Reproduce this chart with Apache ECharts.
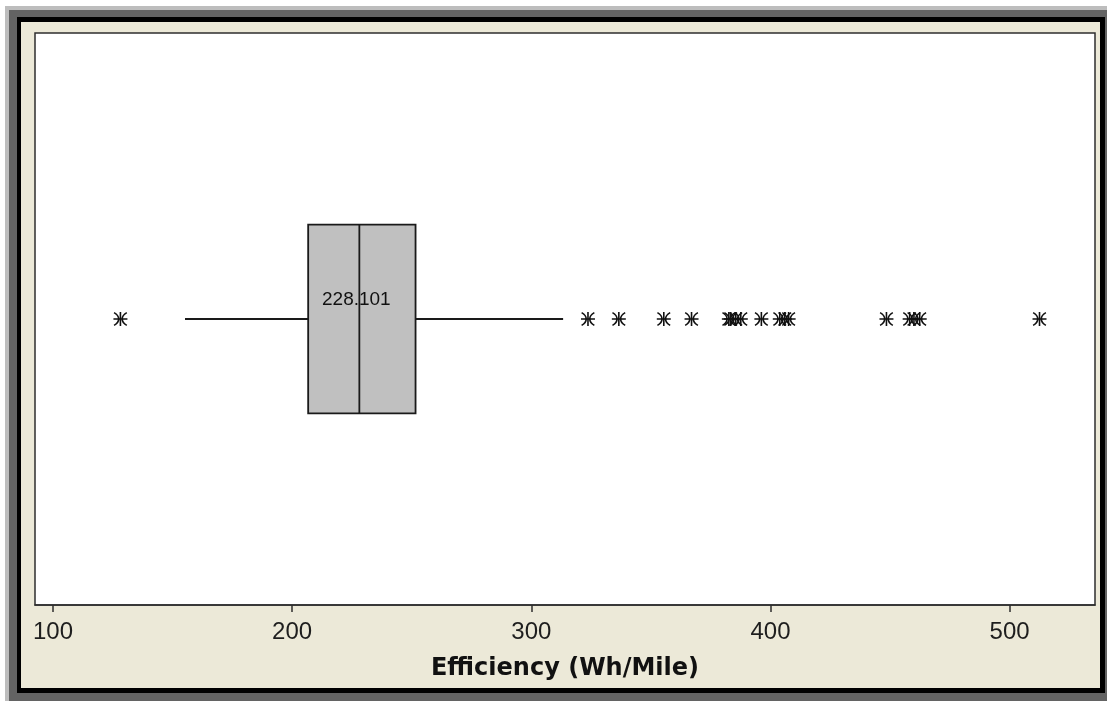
<!DOCTYPE html>
<html>
<head>
<meta charset="utf-8">
<script src="https://cdn.jsdelivr.net/npm/echarts@6/dist/echarts.min.js"></script>
<style>
  html, body { margin: 0; padding: 0; background: #ffffff; }
  .f { position: absolute; }
  #chart { position: absolute; left: 0; top: 0; width: 1107px; height: 701px; }
</style>
</head>
<body>
<div class="f" style="left:5px;top:6px;width:1102px;height:695px;background:#bdbdbd"></div>
<div class="f" style="left:9px;top:10px;width:1098px;height:691px;background:#636363"></div>
<div class="f" style="left:17px;top:17px;width:1088px;height:676px;background:#000000"></div>
<div class="f" style="left:21px;top:22px;width:1079px;height:666px;background:#ece9d8"></div>
<div id="chart"></div>
<script>
// ---- data ----
const categories = ['Efficiency'];
// [lower whisker, Q1, median, Q3, upper whisker]
const boxStats = [155.2, 206.7, 228.101, 251.6, 313.3];
const medianLabel = '228.101';
const outliers = [128.2, 323.7, 336.6, 355.4, 367.0, 382.6, 383.4, 385.5, 387.6,
                  396.2, 403.9, 406.0, 407.6, 448.5, 458.2, 460.0, 462.4, 512.5];
const xTicks = [100, 200, 300, 400, 500];
const axisName = 'Efficiency (Wh/Mile)';

const chart = echarts.init(document.getElementById('chart'), null, { renderer: 'canvas' });

const starPath = 'path://M6 0.5V11.5M0.5 6H11.5M1 1Q4.6 3 4.6 6Q4.6 9 1 11M11 1Q7.4 3 7.4 6Q7.4 9 11 11';
const lineCol = '#1a1a1a';

function renderBox(params, api) {
  const ci = api.value(5);
  const pMin = api.coord([api.value(0), ci]);
  const pQ1 = api.coord([api.value(1), ci]);
  const pMed = api.coord([api.value(2), ci]);
  const pQ3 = api.coord([api.value(3), ci]);
  const pMax = api.coord([api.value(4), ci]);
  const band = api.size([0, 1])[1];
  const h = band * 0.33;
  const cy = pMed[1];
  const ls = { stroke: lineCol, lineWidth: 1.8 };
  return {
    type: 'group',
    children: [
      { type: 'line', shape: { x1: pMin[0], y1: cy, x2: pQ1[0], y2: cy }, style: ls },
      { type: 'line', shape: { x1: pQ3[0], y1: cy, x2: pMax[0], y2: cy }, style: ls },
      { type: 'rect', shape: { x: pQ1[0], y: cy - h / 2, width: pQ3[0] - pQ1[0], height: h },
        style: { fill: '#c0c0c0', stroke: lineCol, lineWidth: 1.8 } },
      { type: 'line', shape: { x1: pMed[0], y1: cy - h / 2, x2: pMed[0], y2: cy + h / 2 }, style: ls },
      { type: 'text', x: pMed[0] - 3, y: cy - 19,
        style: { text: medianLabel, fill: '#111', font: '19px "Liberation Sans", Arial, sans-serif',
                 align: 'center', verticalAlign: 'middle' } }
    ]
  };
}

const option = {
  animation: false,
  backgroundColor: 'transparent',
  grid: {
    left: 35, right: 12, top: 33, bottom: 96,
    show: true, backgroundColor: '#ffffff', borderColor: '#2e2e2e', borderWidth: 1.5
  },
  xAxis: {
    type: 'value',
    min: 92.48, max: 535.7,
    name: axisName,
    nameLocation: 'middle',
    nameGap: 52,
    nameTextStyle: { fontFamily: 'DejaVu Sans', fontWeight: 'bold', fontSize: 24, color: '#111' },
    axisLine: { show: true, onZero: false, lineStyle: { color: '#2e2e2e', width: 1.5 } },
    axisTick: { show: true, length: 7, lineStyle: { color: '#2e2e2e', width: 1.5 }, customValues: xTicks },
    axisLabel: { show: true, margin: 15, fontFamily: 'Liberation Sans', fontSize: 24, color: '#1e1e1e', customValues: xTicks },
    splitLine: { show: false }
  },
  yAxis: {
    type: 'category',
    data: categories,
    show: false
  },
  series: [
    {
      type: 'custom',
      renderItem: renderBox,
      encode: { x: [0, 1, 2, 3, 4], y: 5 },
      data: [[...boxStats, 0]],
      z: 2,
      silent: true
    },
    {
      type: 'scatter',
      symbol: starPath,
      symbolSize: 14,
      itemStyle: { color: 'rgba(0,0,0,0)', borderColor: '#111', borderWidth: 1.6, opacity: 1 },
      data: outliers.map(v => [v, 0]),
      z: 3,
      silent: true
    }
  ]
};
chart.setOption(option);
</script>
</body>
</html>
